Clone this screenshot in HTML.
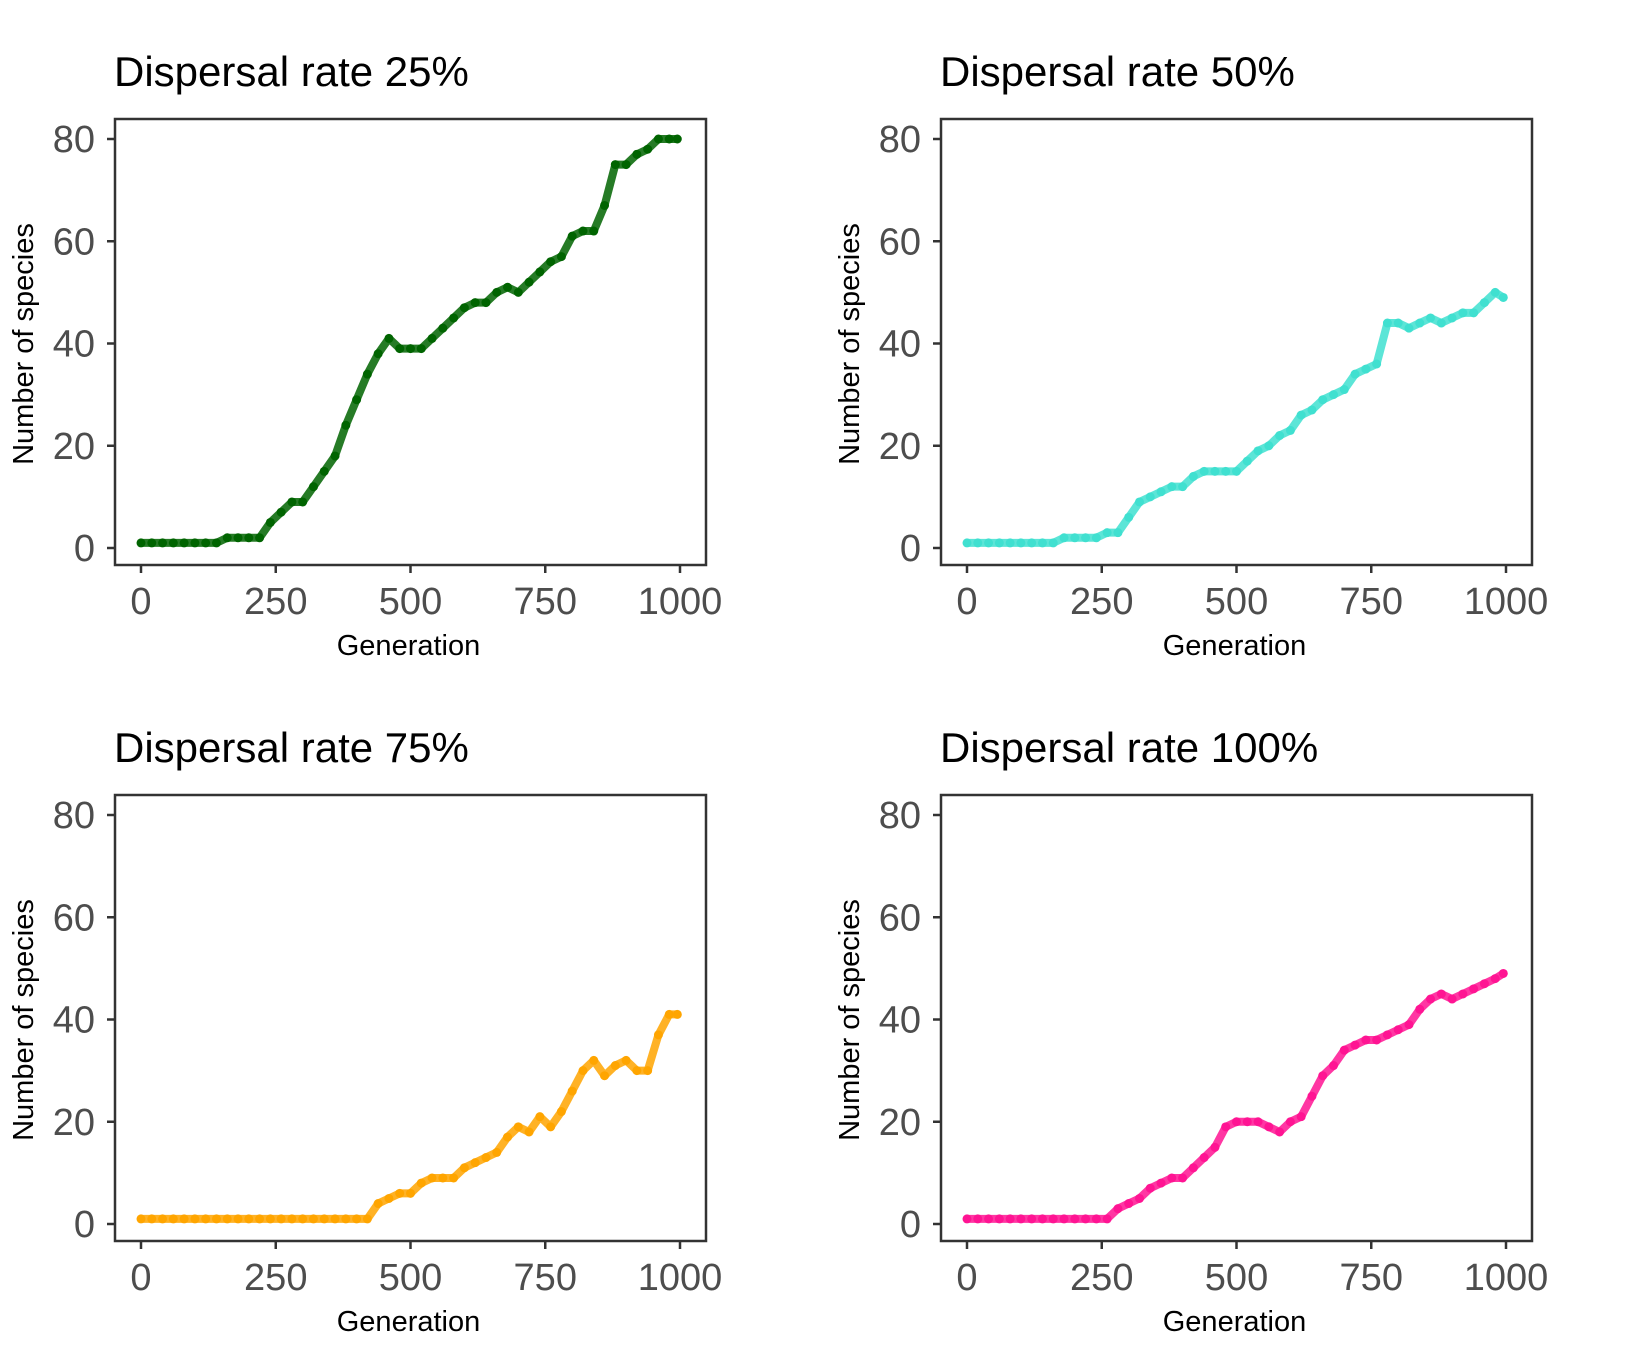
<!DOCTYPE html>
<html><head><meta charset="utf-8"><style>
html,body{margin:0;padding:0;background:#fff;}
svg text{font-family:"Liberation Sans",sans-serif;}
</style></head>
<body>
<svg id="chart" width="1650" height="1350" viewBox="0 0 1650 1350" xmlns="http://www.w3.org/2000/svg"></svg>
<script>
const generations = [0,20,40,60,80,100,120,140,160,180,200,220,240,260,280,300,320,340,360,380,400,420,440,460,480,500,520,540,560,580,600,620,640,660,680,700,720,740,760,780,800,820,840,860,880,900,920,940,960,980,1000];
const series25 = [1,1,1,1,1,1,1,1,2,2,2,2,5,7,9,9,12,15,18,24,29,34,38,41,39,39,39,41,43,45,47,48,48,50,51,50,52,54,56,57,61,62,62,67,75,75,77,78,80,80,80];
const series50 = [1,1,1,1,1,1,1,1,1,2,2,2,2,3,3,6,9,10,11,12,12,14,15,15,15,15,17,19,20,22,23,26,27,29,30,31,34,35,36,44,44,43,44,45,44,45,46,46,48,50,49];
const series75 = [1,1,1,1,1,1,1,1,1,1,1,1,1,1,1,1,1,1,1,1,1,1,4,5,6,6,8,9,9,9,11,12,13,14,17,19,18,21,19,22,26,30,32,29,31,32,30,30,37,41,41];
const series100 = [1,1,1,1,1,1,1,1,1,1,1,1,1,1,3,4,5,7,8,9,9,11,13,15,19,20,20,20,19,18,20,21,25,29,31,34,35,36,36,37,38,39,42,44,45,44,45,46,47,48,49];
const xTicks = [0,250,500,750,1000];
const yTicks = [0,20,40,60,80];
const titles = ["Dispersal rate 25%","Dispersal rate 50%","Dispersal rate 75%","Dispersal rate 100%"];
const colors = ["#006400","#40E0D0","#FFA500","#FF1493"];
const allSeries = [series25,series50,series75,series100];

const NS="http://www.w3.org/2000/svg";
const svg=document.getElementById('chart');
function mk(tag,attrs,parent){const e=document.createElementNS(NS,tag);for(const k in attrs)e.setAttribute(k,attrs[k]);(parent||svg).appendChild(e);return e;}
const offsets=[[0,0],[826,0],[0,676],[826,676]];
allSeries.forEach((data,i)=>{
  const ox=offsets[i][0], oy=offsets[i][1];
  const g=mk('g',{transform:`translate(${ox},${oy-2})`});
  
  
  const L=115,R=706,T=121,B=567;
  const sx=v=>141+(v/1000)*(680-141);
  const sy=v=>550-(v/80)*(550-141);
  const t=mk('text',{x:114,y:88,'font-size':42,fill:'#000'},g);t.textContent=titles[i];
  
  
  const box=mk('rect',{x:L,y:T,width:R-L,height:B-T,fill:'none',stroke:'#333','stroke-width':2.5},g);
  
  
  yTicks.forEach(v=>{
    mk('line',{x1:L-8,x2:L,y1:sy(v),y2:sy(v),stroke:'#333','stroke-width':2.5},g);
    const tl=mk('text',{x:L-20,y:sy(v)+13,'font-size':38,fill:'#4d4d4d','text-anchor':'end'},g);tl.textContent=v;
    
    
  });
  xTicks.forEach(v=>{
    mk('line',{x1:sx(v),x2:sx(v),y1:B,y2:B+8,stroke:'#333','stroke-width':2.5},g);
    const tl=mk('text',{x:sx(v),y:616,'font-size':38,fill:'#4d4d4d','text-anchor':'middle'},g);tl.textContent=v;
    
    
  });
  const xt=mk('text',{x:(L+R)/2-2,y:657,'font-size':29,fill:'#000','text-anchor':'middle'},g);xt.textContent='Generation';
  
  
  const yt=mk('text',{x:0,y:0,'font-size':29,fill:'#000','text-anchor':'middle',transform:`translate(33,${(T+B)/2+2}) rotate(-90)`},g);yt.textContent='Number of species';
  
  
  let d='';
  data.forEach((v,j)=>{const x=sx(Math.min(generations[j],995)),y=sy(v);d+=(j?'L':'M')+x+' '+y+' ';});
  const ln=mk('path',{d:d,fill:'none',stroke:colors[i],'stroke-width':8,'stroke-linecap':'round','stroke-linejoin':'round','stroke-opacity':0.85},g);
  
  
  data.forEach((v,j)=>{
    const c=mk('circle',{cx:sx(Math.min(generations[j],995)),cy:sy(v),r:4.5,fill:colors[i]},g);
    
    
  });
});
</script>
</body></html>
